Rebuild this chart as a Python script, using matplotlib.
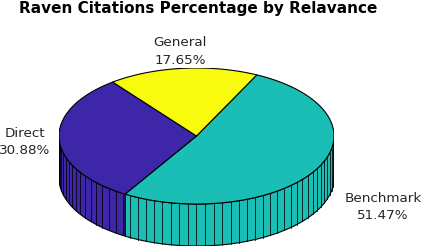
import numpy as np
import matplotlib
matplotlib.use("Agg")
import matplotlib.pyplot as plt

categories = ["Benchmark", "Direct", "General"]
percentages = [51.47, 30.88, 17.65]
percent_labels = ["51.47%", "30.88%", "17.65%"]
colors = ["#1abeb4", "#3e26a8", "#f9fb0e"]
title = "Raven Citations Percentage by Relavance"

W, H = 422, 248
fig = plt.figure(figsize=(W / 100, H / 100), dpi=100)
RY_PX, DEPTH_PX = 68, 42
depth = DEPTH_PX / RY_PX
ax = fig.add_axes([59 / W, (H - 136 - RY_PX - DEPTH_PX) / H, 275 / W, (2 * RY_PX + DEPTH_PX) / H])
ax.set_xlim(-1, 1)
ax.set_ylim(-1 - depth, 1)
ax.axis("off")

start = 64.0
step = 3.6
sweeps = np.array(percentages) / 100 * 360
ends = start - np.cumsum(sweeps)
starts = ends + sweeps

# Side wall: only the front half (sin < 0) is visible
for a0, a1, c in zip(starts, ends, colors):
    hi = min(a0, 0)
    lo = max(a1, -180)
    if hi <= lo:
        continue
    th = np.radians(np.linspace(lo, hi, 80))
    xs = np.cos(th)
    ys = np.sin(th)
    ax.fill(np.r_[xs, xs[::-1]], np.r_[ys, ys[::-1] - depth], facecolor=c,
            edgecolor="black", linewidth=0.8, zorder=1)
    for deg in np.arange(-180, 0, step):
        if lo <= deg <= hi:
            t = np.radians(deg)
            ax.plot([np.cos(t)] * 2, [np.sin(t), np.sin(t) - depth], color="black",
                    linewidth=0.7, alpha=0.8, zorder=2)

# Top face
for a0, a1, c in zip(starts, ends, colors):
    th = np.radians(np.linspace(a1, a0, 120))
    ax.fill(np.r_[0, np.cos(th)], np.r_[0, np.sin(th)], facecolor=c,
            edgecolor="black", linewidth=0.8, joinstyle="round", zorder=3)

label_pos = {"Benchmark": (383, 207), "Direct": (25, 142), "General": (180, 51.5)}
for name, pct in zip(categories, percent_labels):
    x, y = label_pos[name]
    fig.text(x / W, 1 - y / H, f"{name}\n{pct}", ha="center", va="center",
             fontsize=9.7, color="#262626", linespacing=1.4)

fig.text(198 / W, 1 - 8 / H, title, ha="center", va="center", fontsize=11,
         fontweight="bold", color="black")

fig.savefig("out.png", dpi=100)
